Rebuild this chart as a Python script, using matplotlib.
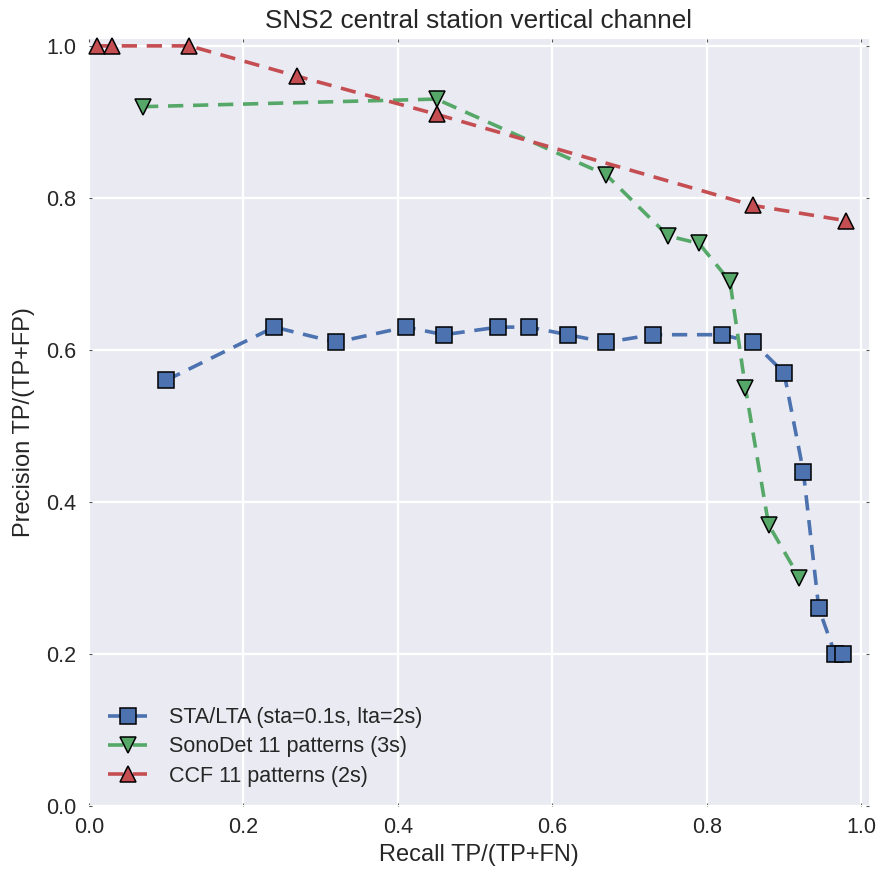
import matplotlib
matplotlib.use('Agg')
import matplotlib.pyplot as plt

# --- data ---
sta_recall = [0.10, 0.24, 0.32, 0.41, 0.46, 0.53, 0.57, 0.62, 0.67, 0.73, 0.82, 0.86, 0.90, 0.925, 0.945, 0.966, 0.976]
sta_prec = [0.56, 0.63, 0.61, 0.63, 0.62, 0.63, 0.63, 0.62, 0.61, 0.62, 0.62, 0.61, 0.57, 0.44, 0.26, 0.20, 0.20]

sono_recall = [0.07, 0.45, 0.67, 0.75, 0.79, 0.83, 0.85, 0.88, 0.92]
sono_prec = [0.92, 0.93, 0.83, 0.75, 0.74, 0.69, 0.55, 0.37, 0.30]

ccf_recall = [0.01, 0.03, 0.13, 0.27, 0.45, 0.86, 0.98]
ccf_prec = [1.00, 1.00, 1.00, 0.96, 0.91, 0.79, 0.77]

labels = ['STA/LTA (sta=0.1s, lta=2s)', 'SonoDet 11 patterns (3s)', 'CCF 11 patterns (2s)']
colors = ['#4C72B0', '#55A868', '#C44E52']
markers = ['s', 'v', '^']

plt.rcParams['font.family'] = ['Liberation Sans', 'DejaVu Sans']
plt.rcParams['lines.scale_dashes'] = False
txt = '#262626'

fig = plt.figure(figsize=(8.8, 8.77), dpi=100)
ax = fig.add_axes([0.1011, 0.081, 0.8864, 0.8745])
ax.set_facecolor('#EAEAF2')
for s in ax.spines.values():
    s.set_visible(False)
ax.grid(True, color='white', linewidth=1.6)
ax.set_axisbelow(True)

series = [(sta_recall, sta_prec), (sono_recall, sono_prec), (ccf_recall, ccf_prec)]
for (x, y), c, m, lab in zip(series, colors, markers, labels):
    ax.plot(x, y, linestyle='--', dashes=(11, 7), marker=m, color=c, lw=2.6,
            ms=11, mec='black', mew=1.1, label=lab, clip_on=False, zorder=3)

ax.set_xlim(0, 1.01)
ax.set_ylim(0, 1.009)
ax.set_xticks([0.0, 0.2, 0.4, 0.6, 0.8, 1.0])
ax.set_yticks([0.0, 0.2, 0.4, 0.6, 0.8, 1.0])
ax.tick_params(direction='in', length=2, width=0.8, color='#555555',
               labelsize=15.5, labelcolor=txt, top=True, right=True)
ax.tick_params(axis='x', pad=8)
ax.tick_params(axis='y', pad=9)

ax.set_title('SNS2 central station vertical channel', fontsize=18.8, color=txt, pad=8)
ax.set_xlabel('Recall TP/(TP+FN)', fontsize=17, color=txt, labelpad=4)
ax.set_ylabel('Precision TP/(TP+FP)', fontsize=17, color=txt, labelpad=8)

leg = ax.legend(loc='lower left', frameon=False, fontsize=15.5,
                handlelength=1.8, handletextpad=1.0, labelspacing=0.38)
for t in leg.get_texts():
    t.set_color(txt)

fig.savefig('out.png', dpi=100)
